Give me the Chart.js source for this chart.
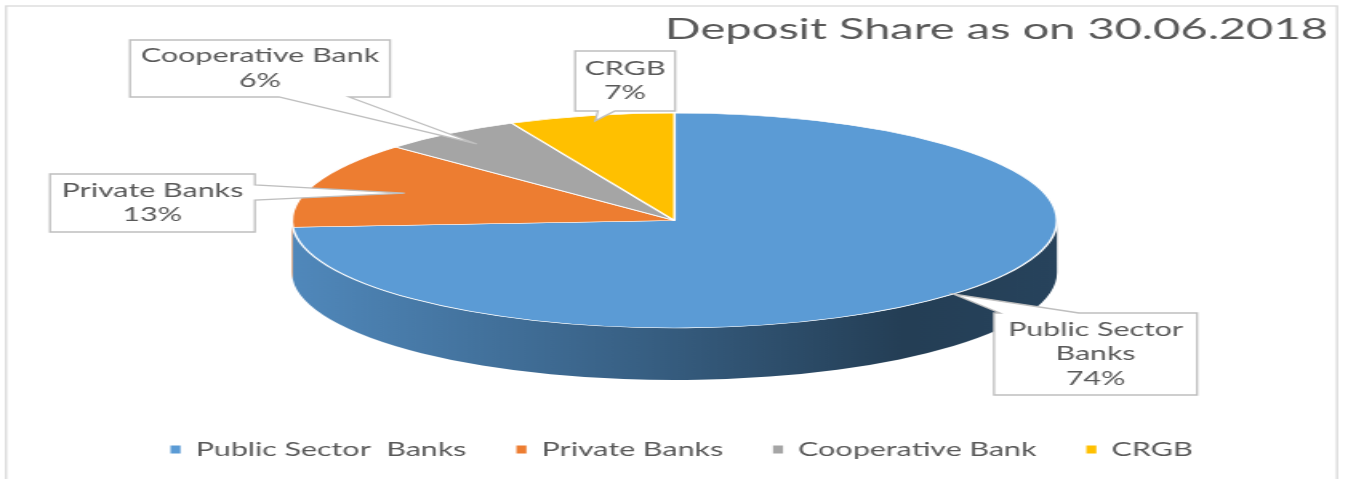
<!DOCTYPE html>
<html>
<head>
<meta charset="utf-8">
<script src="https://cdn.jsdelivr.net/npm/chart.js@4.4.1/dist/chart.umd.min.js"></script>
<style>
html,body{margin:0;padding:0;background:#fff;overflow:hidden}
#c{display:block}
</style>
</head>
<body>
<canvas id="c" width="842" height="479" style="width:1348px;height:479px"></canvas>
<script>
// ---- data ----
const categories = ['Public Sector  Banks', 'Private Banks', 'Cooperative Bank', 'CRGB'];
const shares = [74, 13, 6, 7];
const sliceColors = ['#5B9BD5', '#ED7D31', '#A5A5A5', '#FFC000'];
const chartTitle = 'Deposit Share as on 30.06.2018';

// ---- helpers ----
function shade(hex, f) {
  const n = parseInt(hex.slice(1), 16);
  const r = Math.round(((n >> 16) & 255) * f), g = Math.round(((n >> 8) & 255) * f), b = Math.round((n & 255) * f);
  return 'rgb(' + r + ',' + g + ',' + b + ')';
}

const bgPlugin = {
  id: 'bgFrame',
  beforeDraw(chart) {
    const ctx = chart.ctx;
    ctx.save();
    ctx.fillStyle = '#ffffff';
    ctx.fillRect(0, 0, chart.width, chart.height);
    ctx.strokeStyle = '#d9d9d9';
    ctx.lineWidth = 1.3;
    ctx.strokeRect(3.75, 6, 831.4, 520);
    ctx.restore();
  }
};

const pie3d = {
  id: 'pie3d',
  beforeDatasetsDraw(chart, args, opts) {
    const arcs = chart.getDatasetMeta(0).data;
    if (!arcs.length) return;
    const ctx = chart.ctx;
    const a0 = arcs[0];
    const R = a0.outerRadius;
    const {cx, cy, rx, ry, depth} = opts;
    arcs.forEach((arc) => {
      const s = arc.startAngle, e = arc.endAngle;
      const base = arc.options.backgroundColor;
      for (let k = -1; k <= 2; k++) {
        const lo = Math.max(s, k * 2 * Math.PI), hi = Math.min(e, k * 2 * Math.PI + Math.PI);
        if (hi > lo) {
          const g = ctx.createLinearGradient(cx - rx, 0, cx + rx, 0);
          g.addColorStop(0, shade(base, 0.88));
          g.addColorStop(0.45, shade(base, 0.62));
          g.addColorStop(0.8, shade(base, 0.4));
          g.addColorStop(1, shade(base, 0.43));
          ctx.beginPath();
          ctx.ellipse(cx, cy, rx, ry, 0, lo, hi);
          ctx.ellipse(cx, cy + depth, rx, ry, 0, hi, lo, true);
          ctx.closePath();
          ctx.fillStyle = g;
          ctx.fill();
        }
      }
    });
    ctx.save();
    ctx.translate(cx, cy);
    ctx.scale(rx / R, ry / R);
    ctx.translate(-a0.x, -a0.y);
  },
  afterDatasetsDraw(chart) {
    chart.ctx.restore();
  }
};

const calloutPlugin = {
  id: 'callouts',
  afterDraw(chart, args, opts) {
    const arcs = chart.getDatasetMeta(0).data;
    const p = chart.options.plugins.pie3d;
    const ctx = chart.ctx;
    const values = chart.data.datasets[0].data;
    const total = values.reduce((a, b) => a + b, 0);
    ctx.save();
    opts.items.forEach((c, i) => {
      const arc = arcs[i];
      if (!arc) return;
      const mid = (arc.startAngle + arc.endAngle) / 2;
      const ax = p.cx + c.f * p.rx * Math.cos(mid);
      const ay = p.cy + c.f * p.ry * Math.sin(mid);
      const [x, y, w, h] = c.box;
      const [b0, b1] = c.base;
      ctx.beginPath();
      if (c.side === 'bottom') {
        ctx.moveTo(x, y); ctx.lineTo(x + w, y); ctx.lineTo(x + w, y + h);
        ctx.lineTo(x + b1, y + h); ctx.lineTo(ax, ay); ctx.lineTo(x + b0, y + h);
        ctx.lineTo(x, y + h);
      } else if (c.side === 'top') {
        ctx.moveTo(x, y); ctx.lineTo(x + b0, y); ctx.lineTo(ax, ay); ctx.lineTo(x + b1, y);
        ctx.lineTo(x + w, y); ctx.lineTo(x + w, y + h); ctx.lineTo(x, y + h);
      } else {
        ctx.moveTo(x, y); ctx.lineTo(x + w, y); ctx.lineTo(x + w, y + b0); ctx.lineTo(ax, ay);
        ctx.lineTo(x + w, y + b1); ctx.lineTo(x + w, y + h); ctx.lineTo(x, y + h);
      }
      ctx.closePath();
      ctx.fillStyle = '#ffffff';
      ctx.fill();
      ctx.strokeStyle = '#bfbfbf';
      ctx.lineWidth = 1.3;
      ctx.stroke();
      const lines = String(chart.data.labels[i]).split('  ');
      lines.push(Math.round(values[i] / total * 100) + '%');
      ctx.fillStyle = '#595959';
      ctx.font = opts.font;
      ctx.textAlign = 'center';
      ctx.textBaseline = 'middle';
      const lh = opts.lineHeight;
      const cyBox = y + h / 2;
      lines.forEach((t, j) => {
        ctx.fillText(t, x + w / 2, cyBox + (j - (lines.length - 1) / 2) * lh);
      });
    });
    ctx.restore();
  }
};

new Chart(document.getElementById('c'), {
  type: 'pie',
  data: {
    labels: categories,
    datasets: [{
      data: shares,
      backgroundColor: sliceColors,
      borderColor: '#ffffff',
      borderWidth: 1.5,
      hoverOffset: 0,
      clip: false
    }]
  },
  options: {
    responsive: false,
    animation: false,
    events: [],
    radius: 238.9,
    layout: {padding: {left: 21.9, right: 12.5, top: 0, bottom: 10}},
    plugins: {
      title: {
        display: true, text: chartTitle, align: 'end', color: '#595959',
        font: {family: 'Lato', size: 29.4, weight: 'normal'},
        padding: {top: 12.3, bottom: 0}
      },
      legend: {
        position: 'bottom',
        labels: {
          color: '#595959',
          font: {family: 'Lato', size: 19},
          boxWidth: 6.25,
          boxHeight: 8,
          padding: 31.2,
          generateLabels: (chart) => Chart.overrides.doughnut.plugins.legend.labels.generateLabels(chart)
            .map(l => Object.assign(l, {lineWidth: 0, strokeStyle: l.fillStyle}))
        }
      },
      tooltip: {enabled: false},
      pie3d: {cx: 421.3, cy: 220.5, rx: 238.9, ry: 107.5, depth: 52},
      callouts: {
        font: '19px Lato',
        lineHeight: 24.5,
        items: [
          {box: [620.9, 313, 126.8, 82], side: 'top', base: [3.7, 53], f: 1.0},
          {box: [31.2, 174, 128, 58], side: 'right', base: [11, 26], f: 0.75},
          {box: [81.2, 40, 162.4, 57], side: 'bottom', base: [93, 136.8], f: 0.88},
          {box: [359.2, 51, 62.5, 60], side: 'bottom', base: [14.3, 24.9], f: 0.95}
        ]
      }
    }
  },
  plugins: [bgPlugin, pie3d, calloutPlugin]
});
</script>
</body>
</html>
